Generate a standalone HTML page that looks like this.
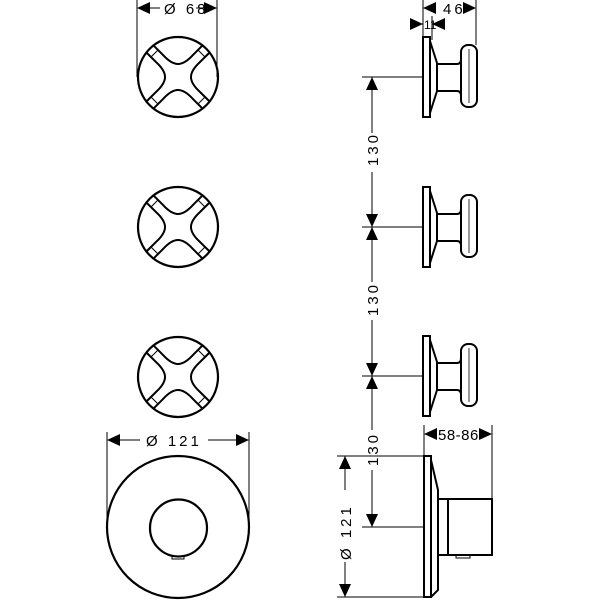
<!DOCTYPE html>
<html><head><style>
html,body{margin:0;padding:0;background:#fff;}
svg{display:block;}
text{font-family:"Liberation Sans",sans-serif;font-size:15px;fill:#000;letter-spacing:3px;}
</style></head><body>
<svg width="600" height="600" viewBox="0 0 600 600" xmlns="http://www.w3.org/2000/svg">
<defs>
<path id="seg" d="M31.6,24.5 L21.9,14.9 C10,4 10,-4 21.9,-14.9 L31.6,-24.5"/>
<g id="front" fill="none" stroke="#000">
 <circle r="40" stroke-width="2.2"/>
 <g stroke-width="2">
  <use href="#seg"/>
  <use href="#seg" transform="rotate(90)"/>
  <use href="#seg" transform="rotate(180)"/>
  <use href="#seg" transform="rotate(270)"/>
 </g>
 <path stroke-width="1" d="M27,20 L20,27 M-27,20 L-20,27 M27,-20 L20,-27 M-27,-20 L-20,-27"/>
</g>
<g id="side" fill="none" stroke="#000" stroke-width="2">
 <rect x="423" y="-40" width="7" height="80"/>
 <path d="M430,-36 L437,-14 L437,14 L430,36"/>
 <path d="M437,-13 L457,-13 Q461,-13 461,-18 M437,14 L457,14 Q461,14 461,19"/>
 <rect x="461" y="-32" width="16" height="62" rx="7"/>
 <path stroke-width="0.8" d="M469,-28 V26"/>
</g>
<path id="arr" d="M0,0 L-6,-13 L6,-13 Z" fill="#000"/>
</defs>

<use href="#front" x="178" y="77"/>
<use href="#front" x="178" y="227"/>
<use href="#front" x="178" y="377"/>

<g fill="none" stroke="#000">
 <line x1="137" y1="0" x2="137" y2="77" stroke-width="1"/>
 <line x1="217" y1="0" x2="217" y2="77" stroke-width="1"/>
 <line x1="150" y1="8" x2="160" y2="8" stroke-width="1"/>
 <line x1="196" y1="8" x2="205" y2="8" stroke-width="1"/>
 <circle cx="178" cy="527" r="71" stroke-width="2.2"/>
 <circle cx="178.5" cy="528" r="28.5" stroke-width="2.2"/>
 <rect x="172" y="556" width="12" height="3" stroke-width="1"/>
 <line x1="107" y1="432" x2="107" y2="527" stroke-width="1"/>
 <line x1="249" y1="432" x2="249" y2="527" stroke-width="1"/>
 <line x1="120" y1="440" x2="140" y2="440" stroke-width="1"/>
 <line x1="208" y1="440" x2="236" y2="440" stroke-width="1"/>
</g>
<use href="#arr" transform="translate(137,8) rotate(90)"/>
<use href="#arr" transform="translate(217,8) rotate(-90)"/>
<use href="#arr" transform="translate(107,440) rotate(90)"/>
<use href="#arr" transform="translate(249,440) rotate(-90)"/>
<text x="164" y="14">Ø 68</text>
<text x="146" y="446">Ø 121</text>

<use href="#side" x="0" y="77"/>
<use href="#side" x="0" y="227"/>
<use href="#side" x="0" y="376"/>

<g fill="none" stroke="#000" stroke-width="2">
 <rect x="424" y="456" width="7" height="141"/>
 <path d="M431,460 L438,490 L438,590 L431,597"/>
 <rect x="438" y="499" width="10" height="56"/>
 <rect x="448" y="499" width="44" height="56"/>
 <rect x="456" y="555" width="14" height="3" stroke-width="1"/>
</g>

<g fill="none" stroke="#000" stroke-width="1">
 <line x1="423" y1="0" x2="423" y2="37"/>
 <line x1="432" y1="16" x2="432" y2="40"/>
 <line x1="476" y1="0" x2="476" y2="45"/>
 <line x1="410" y1="24" x2="423" y2="24"/>
 <line x1="432" y1="24" x2="445" y2="24"/>
 <line x1="362" y1="77" x2="423" y2="77"/>
 <line x1="362" y1="227" x2="423" y2="227"/>
 <line x1="362" y1="376" x2="423" y2="376"/>
 <line x1="362" y1="527" x2="424" y2="527"/>
 <line x1="337" y1="456" x2="424" y2="456"/>
 <line x1="372" y1="77" x2="372" y2="133"/>
 <line x1="372" y1="172" x2="372" y2="282"/>
 <line x1="372" y1="320" x2="372" y2="430"/>
 <line x1="372" y1="470" x2="372" y2="527"/>
 <line x1="345" y1="456" x2="345" y2="490"/>
 <line x1="345" y1="562" x2="345" y2="597"/>
 <line x1="337" y1="597" x2="424" y2="597"/>
 <line x1="492" y1="425" x2="492" y2="499"/>
 <line x1="424" y1="425" x2="424" y2="456"/>
</g>
<use href="#arr" transform="translate(423,8) rotate(90)"/>
<use href="#arr" transform="translate(476,8) rotate(-90)"/>
<use href="#arr" transform="translate(423,24) rotate(-90)"/>
<use href="#arr" transform="translate(432,24) rotate(90)"/>
<text x="443" y="14">46</text>
<text x="424" y="29" style="font-size:12px;letter-spacing:0px">11</text>

<use href="#arr" transform="translate(372,77) rotate(180)"/>
<use href="#arr" transform="translate(372,227)"/>
<use href="#arr" transform="translate(372,227) rotate(180)"/>
<use href="#arr" transform="translate(372,376)"/>
<use href="#arr" transform="translate(372,376) rotate(180)"/>
<use href="#arr" transform="translate(372,527)"/>
<use href="#arr" transform="translate(345,456) rotate(180)"/>
<use href="#arr" transform="translate(345,597)"/>
<use href="#arr" transform="translate(424,434) rotate(90)"/>
<use href="#arr" transform="translate(492,434) rotate(-90)"/>

<text transform="translate(378,166) rotate(-90)">130</text>
<text transform="translate(378,316) rotate(-90)">130</text>
<text transform="translate(378,466) rotate(-90)">130</text>
<text transform="translate(351,560) rotate(-90)">Ø 121</text>
<text x="438" y="440" style="letter-spacing:0.5px">58-86</text>
</svg>
</body></html>
